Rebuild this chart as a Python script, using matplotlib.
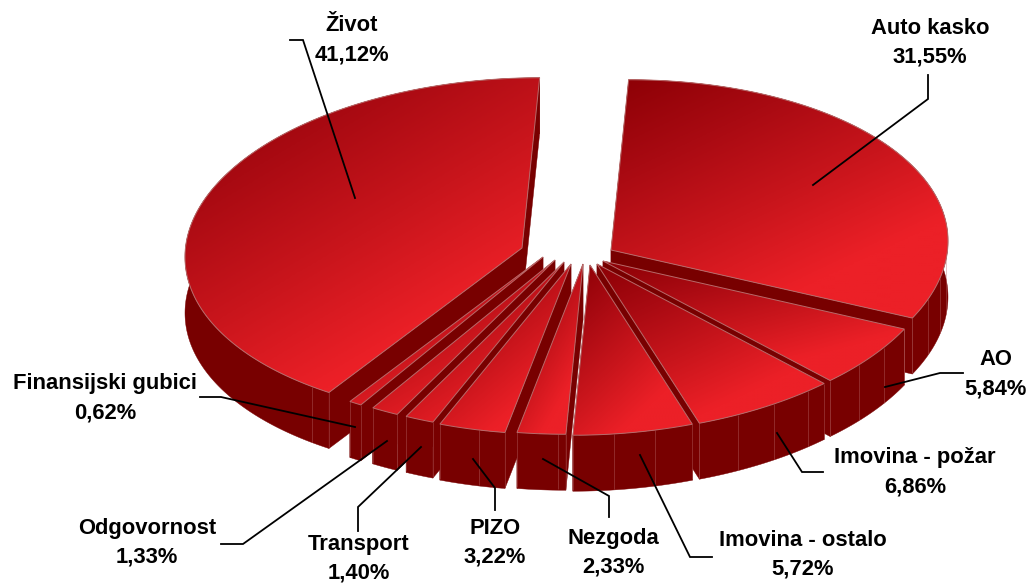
import numpy as np
import matplotlib
matplotlib.use("Agg")
import matplotlib.pyplot as plt
from matplotlib.colors import LinearSegmentedColormap
from matplotlib.patches import Polygon

categories = ["Auto kasko", "AO", "Imovina - požar", "Imovina - ostalo", "Nezgoda",
              "PIZO", "Transport", "Odgovornost", "Finansijski gubici", "Život"]
shares = [31.55, 5.84, 6.86, 5.72, 2.33, 3.22, 1.40, 1.33, 0.62, 41.12]

# per-slice explode offsets (like pie's explode), pixels from the pie centre
explode_x = [26, 18, 12, 5, -2, -14, -21, -30, -42, -63]
explode_y = [-6, 5, 8, 9, 8, 8, 6, 4, 1, -8]

CX, CY = 585, 256
RX, RY = 337, 170
TILT = 9
DEPTH = 56
START = 3.0
FACET = 7.0

label_pos = [(930, 43), (996, 374), (915, 472), (803, 555), (613, 553),
             (495, 543), (359, 559), (147, 543), (105, 398), (352, 40)]
leaders = [[(813, 185), (928, 99), (928, 75)],
           [(885, 387), (940, 373), (963, 373)],
           [(777, 433), (802, 472), (823, 472)],
           [(640, 455), (690, 557), (712, 557)],
           [(543, 459), (609, 496), (609, 517)],
           [(473, 459), (495, 488), (495, 510)],
           [(421, 447), (358, 507), (358, 531)],
           [(387, 441), (243, 544), (221, 544)],
           [(355, 427), (221, 397), (200, 397)],
           [(355, 198), (303, 40), (290, 40)]]

cmap = LinearSegmentedColormap.from_list("top", ["#8c0005", "#a90a12", "#c9151c", "#ec2027", "#ec2027"])
WALL = "#780000"
EDGE = "#b86a6a"

plt.rcParams["font.family"] = ["Liberation Sans", "DejaVu Sans"]
fig = plt.figure(figsize=(10.28, 5.84), dpi=100)
ax = fig.add_axes([0, 0, 1, 1])
ax.axis("off")


def rim(i, deg):
    t = np.radians(deg)
    return (CX + explode_x[i] + RX * np.sin(t),
            CY + explode_y[i] - RY * np.cos(t) - TILT * np.sin(t))


total = sum(shares)
edges = START + 360 * np.concatenate([[0], np.cumsum(shares)]) / total
gx, gy = np.meshgrid(np.linspace(0, 1, 200), np.linspace(0, 1, 200))
grad = 0.4 * gx + 0.6 * gy


def draw_slice(i, z):
    a0, a1 = edges[i], edges[i + 1]
    angs = np.linspace(a0, a1, max(int((a1 - a0) * 2), 6))
    arc = np.array([rim(i, a) for a in angs])
    apex = np.array([CX + explode_x[i], CY + explode_y[i]])
    top = np.vstack([[apex], arc])
    down = np.array([0, DEPTH])
    # radial walls
    for p in (arc[0], arc[-1]):
        q = np.array([apex, p, p + down, apex + down])
        ax.add_patch(Polygon(q, closed=True, fc=WALL, ec=WALL, lw=0.3, zorder=z))
    # outer wall
    w = np.vstack([arc, (arc + down)[::-1]])
    ax.add_patch(Polygon(w, closed=True, fc=WALL, ec=WALL, lw=0.3, zorder=z))
    # facet lines on the front of the rim
    if a1 - a0 > 120:  # the largest slice is smooth apart from its corner
        fac = [a0, a0 + 3.5]
    else:
        fac = list(np.arange(a1 - FACET, a0, -FACET)) + [a0, a1]
    for a in fac:
        s = (a % 360)
        if 95 < s < 265:
            p = np.array(rim(i, a))
            ax.plot([p[0], p[0]], [p[1], p[1] + DEPTH - 1], color=EDGE, lw=0.6,
                    alpha=0.45, zorder=z + 0.1, solid_capstyle="butt")
    # gradient top
    x0, y0 = top.min(axis=0)
    x1, y1 = top.max(axis=0)
    im = ax.imshow(grad, extent=(x0, x1, y1, y0), cmap=cmap, vmin=0, vmax=1,
                   aspect="auto", zorder=z + 0.2, interpolation="bilinear")
    poly = Polygon(top, closed=True, fc="none", ec=EDGE, lw=0.7, zorder=z + 0.3)
    ax.add_patch(poly)
    im.set_clip_path(poly)


order = sorted(range(len(shares)),
               key=lambda k: -np.cos(np.radians((edges[k] + edges[k + 1]) / 2)))
for z, i in enumerate(order):
    draw_slice(i, 2 + z)

for i, name in enumerate(categories):
    xs, ys = zip(*leaders[i])
    ax.plot(xs, ys, color="black", lw=1.3, zorder=50, solid_joinstyle="miter")
    pct = f"{shares[i]:.2f}".replace(".", ",") + "%"
    ax.text(label_pos[i][0], label_pos[i][1], f"{name}\n{pct}", ha="center", va="center",
            fontsize=15.8, fontweight="bold", color="black", linespacing=1.5, zorder=60)

ax.set_xlim(0, 1028)
ax.set_ylim(584, 0)
fig.savefig("out.png", dpi=100, facecolor="white")
